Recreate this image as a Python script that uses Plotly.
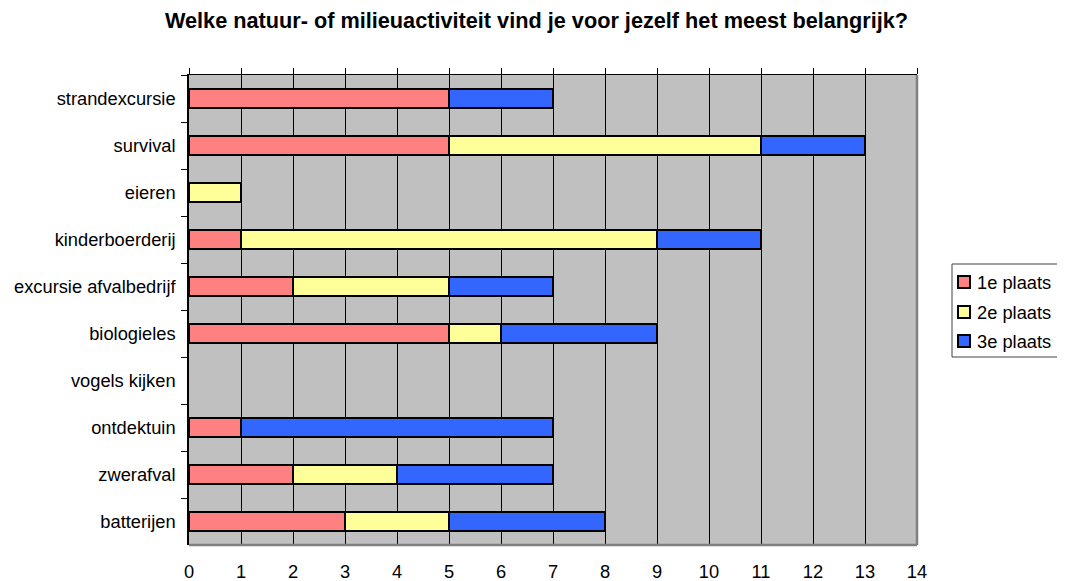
import plotly.graph_objects as go

categories = ["strandexcursie", "survival", "eieren", "kinderboerderij",
              "excursie afvalbedrijf", "biologieles", "vogels kijken",
              "ontdektuin", "zwerafval", "batterijen"]
eerste = [5, 5, 0, 1, 2, 5, 0, 1, 2, 3]
tweede = [0, 6, 1, 8, 3, 1, 0, 0, 2, 2]
derde = [2, 2, 0, 2, 2, 3, 0, 6, 3, 3]
series_names = ["1e plaats", "2e plaats", "3e plaats"]
series_colors = ["#FF8080", "#FFFF99", "#3366FF"]
x_ticks = list(range(0, 15))

FONT = "Liberation Sans, Arial, sans-serif"
FS = 18.3

W, H = 1057, 573
ML, MR, MT, MB = 181, 148, 67, 36
PW, PH = W - ML - MR, H - MT - MB


def px(xp):
    return (xp - ML) / PW


def py(yp):
    return (H - MB - yp) / PH


fig = go.Figure()
for name, vals, col in zip(series_names, [eerste, tweede, derde], series_colors):
    fig.add_trace(go.Bar(
        y=categories, x=vals, name=name, orientation="h",
        marker=dict(color=col,
                    line=dict(color="black", width=[2 if v > 0 else 0 for v in vals])),
        showlegend=False,
    ))

# invisible trace on top x-axis to carry top tick marks
fig.add_trace(go.Scatter(x=[0, 14], y=[categories[0], categories[0]], xaxis="x2",
                         mode="markers", marker=dict(opacity=0), showlegend=False,
                         hoverinfo="skip"))

fig.update_layout(
    width=W, height=H,
    barmode="stack", bargap=0.6,
    plot_bgcolor="#C0C0C0", paper_bgcolor="white",
    margin=dict(l=ML, r=MR, t=MT, b=MB, autoexpand=False),
    font=dict(family=FONT, size=FS, color="black"),
    title=dict(text="<b>Welke natuur- of milieuactiviteit vind je voor jezelf het meest belangrijk?</b>",
               x=0.5, xanchor="center", y=0.979, yanchor="middle",
               font=dict(family=FONT, size=21.7, color="black")),
    xaxis=dict(range=[0, 14], tickmode="array", tickvals=x_ticks,
               showgrid=True, gridcolor="black", gridwidth=1,
               ticks="", showline=False, zeroline=False, automargin=False,
               ticklabelstandoff=14, tickfont=dict(size=FS)),
    xaxis2=dict(range=[0, 14], overlaying="x", side="top", tickmode="array",
                tickvals=x_ticks, ticks="outside", ticklen=6, tickcolor="black",
                tickwidth=1, showticklabels=False, showgrid=False, automargin=False,
                showline=True, linecolor="black", linewidth=1, zeroline=False),
    yaxis=dict(categoryorder="array", categoryarray=categories,
               range=[9.5, -0.5], ticks="outside", tickson="boundaries",
               ticklen=6, tickcolor="black", tickwidth=1, automargin=False,
               showline=True, linecolor="black", linewidth=1.5,
               showgrid=False, zeroline=False, ticklabelstandoff=8,
               tickfont=dict(size=FS)),
    showlegend=False,
)

# gray shadow borders on right and bottom of plot area
fig.add_shape(type="line", xref="paper", yref="paper", x0=1, x1=1, y0=0, y1=1,
              line=dict(color="#808080", width=2.5), layer="above")
fig.add_shape(type="line", xref="paper", yref="paper", x0=0, x1=1, y0=0, y1=0,
              line=dict(color="#808080", width=2.5), layer="above")

# legend box (drawn manually to match the original layout)
LX0, LX1, LY0, LY1 = 944, 1051, 256, 349
fig.add_shape(type="rect", xref="paper", yref="paper",
              x0=px(LX0), x1=px(LX1), y0=py(LY1), y1=py(LY0),
              line=dict(color="#404040", width=1), fillcolor="white", layer="above")
item_y = [274, 304, 333]
for name, col, yc in zip(series_names, series_colors, item_y):
    fig.add_shape(type="rect", xref="paper", yref="paper",
                  x0=px(950), x1=px(962), y0=py(yc + 6), y1=py(yc - 6),
                  line=dict(color="black", width=2), fillcolor=col, layer="above")
    fig.add_annotation(text=name, xref="paper", yref="paper",
                       x=px(967), y=py(yc), xanchor="left", yanchor="middle",
                       showarrow=False, font=dict(family=FONT, size=FS, color="black"))

fig.write_html("out.html")
